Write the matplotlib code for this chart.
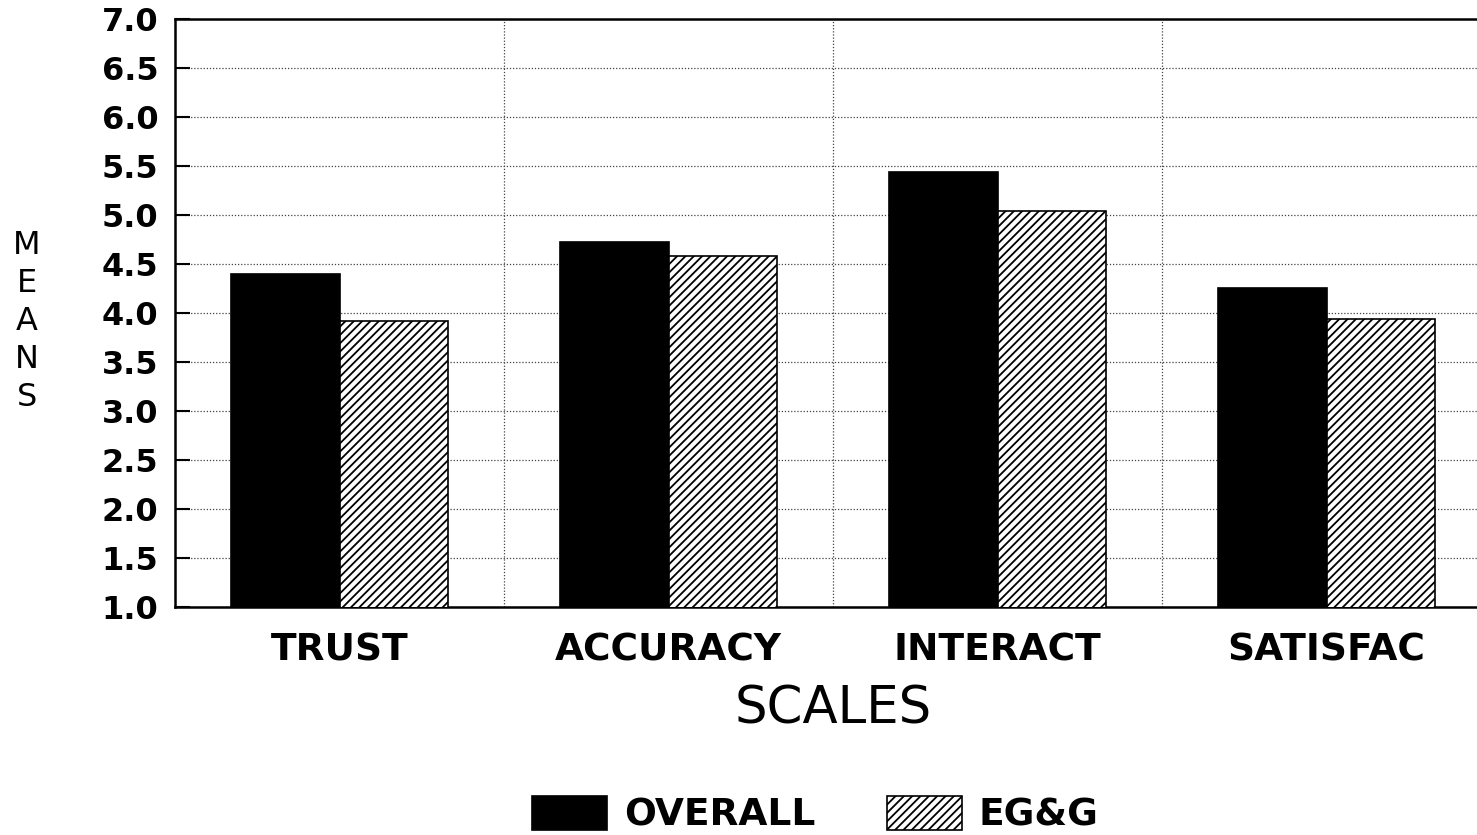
import numpy as np
import matplotlib
matplotlib.use("Agg")
import matplotlib.pyplot as plt

# data
scales = ["TRUST", "ACCURACY", "INTERACT", "SATISFAC"]
overall = [4.40, 4.73, 5.44, 4.26]
egg = [3.92, 4.58, 5.04, 3.94]
y_ticks = [1.0, 1.5, 2.0, 2.5, 3.0, 3.5, 4.0, 4.5, 5.0, 5.5, 6.0, 6.5, 7.0]

plt.rcParams['font.family'] = ['DejaVu Sans']
plt.rcParams['hatch.linewidth'] = 1.3

fig = plt.figure(figsize=(14.77, 8.35), dpi=100)
ax = fig.add_axes([0.1185, 0.273, 0.891, 0.704])

x = np.arange(len(scales))
w = 0.33
b1 = ax.bar(x - w / 2, overall, w, color='black', edgecolor='black', linewidth=1.2, zorder=3, label='OVERALL')
b2 = ax.bar(x + w / 2, egg, w, color='white', edgecolor='black', hatch='////', linewidth=1.2, zorder=3, label='EG&G')

ax.set_ylim(1.0, 7.0)
ax.set_xlim(-0.5, 3.5)
ax.set_yticks(y_ticks)
ax.set_yticklabels(["%.1f" % v for v in y_ticks], fontsize=23, fontweight='bold')
ax.set_xticks(x)
ax.set_xticklabels(scales, fontsize=27, fontweight='bold')

ax.tick_params(axis='y', direction='in', length=11, width=1.5, pad=12)
ax.tick_params(axis='x', length=0, pad=18)

ax.yaxis.grid(True, linestyle=(0, (1, 1.5)), color='#444444', linewidth=0.9, zorder=0)
for xb in [0.5, 1.5, 2.5]:
    ax.axvline(xb, linestyle=(0, (1, 1.5)), color='#444444', linewidth=0.9, zorder=0)

for s in ax.spines.values():
    s.set_linewidth(1.8)

ax.set_xlabel("SCALES", fontsize=37, labelpad=12)
fig.text(0.018, 0.615, "M\nE\nA\nN\nS", fontsize=23, ha='center', va='center', linespacing=1.3)

fig.legend(handles=[b1, b2], loc='center', bbox_to_anchor=(0.552, 0.024), ncol=2, frameon=False,
           prop={'size': 27, 'weight': 'bold'}, handlelength=2.0, handleheight=1.0,
           handletextpad=0.45, columnspacing=1.9)

fig.savefig("out.png", dpi=100)
